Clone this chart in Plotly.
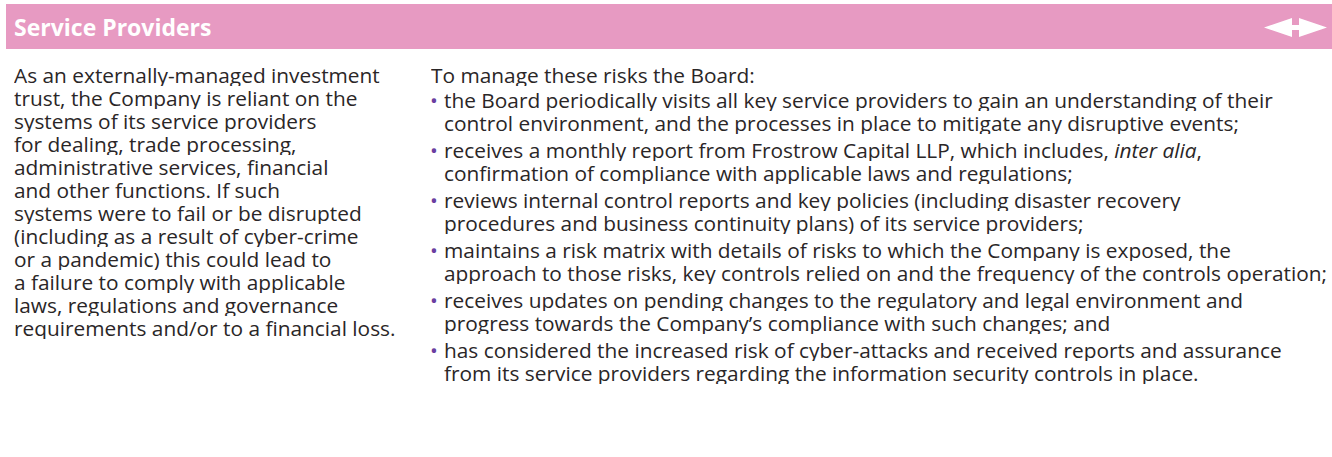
import plotly.graph_objects as go

TITLE = "Service Providers"

LEFT_LINES = [
    "As an externally-managed investment",
    "trust, the Company is reliant on the",
    "systems of its service providers",
    "for dealing, trade processing,",
    "administrative services, financial",
    "and other functions. If such",
    "systems were to fail or be disrupted",
    "(including as a result of cyber-crime",
    "or a pandemic) this could lead to",
    "a failure to comply with applicable",
    "laws, regulations and governance",
    "requirements and/or to a financial loss.",
]

RIGHT_INTRO = "To manage these risks the Board:"

BULLETS = [
    ["the Board periodically visits all key service providers to gain an understanding of their",
     "control environment, and the processes in place to mitigate any disruptive events;"],
    ["receives a monthly report from Frostrow Capital LLP, which includes, <i>inter alia</i>,",
     "confirmation of compliance with applicable laws and regulations;"],
    ["reviews internal control reports and key policies (including disaster recovery",
     "procedures and business continuity plans) of its service providers;"],
    ["maintains a risk matrix with details of risks to which the Company is exposed, the",
     "approach to those risks, key controls relied on and the frequency of the controls operation;"],
    ["receives updates on pending changes to the regulatory and legal environment and",
     "progress towards the Company\u2019s compliance with such changes; and"],
    ["has considered the increased risk of cyber-attacks and received reports and assurance",
     "from its service providers regarding the information security controls in place."],
]

W, H = 1332, 457
PINK = "#E79AC2"
PURPLE = "#6A3FA0"
TXT = "#2A2627"
FONT = "Open Sans"
FS = 20.85
LH = 23

fig = go.Figure()
fig.add_trace(go.Scatter(x=[0, W], y=[0, H], mode="markers", marker=dict(opacity=0), hoverinfo="skip", showlegend=False))

shapes = []
annotations = []

# header bar
shapes.append(dict(type="rect", xref="x", yref="y", x0=6, x1=W, y0=4, y1=49, fillcolor=PINK, line=dict(width=0), layer="below"))
# double arrow icon
arrow = ("M 1264 27.5 L 1292 18 L 1292 25 L 1299 25 L 1299 18 L 1327 27.5 "
         "L 1299 37 L 1299 30 L 1292 30 L 1292 37 Z")
shapes.append(dict(type="path", xref="x", yref="y", path=arrow, fillcolor="white", line=dict(width=0)))

annotations.append(dict(x=13, y=27, xref="x", yref="y", text="<b>" + TITLE + "</b>", showarrow=False,
                        xanchor="left", yanchor="middle", borderpad=0,
                        font=dict(family=FONT, size=23, color="white")))


def body(x, y, text, color=TXT, anchor="left"):
    return dict(x=x, y=y, xref="x", yref="y", text=text, showarrow=False,
                xanchor=anchor, yanchor="middle", borderpad=0, height=LH - 1,
                font=dict(family=FONT, size=FS, color=color))


y0 = 75
for i, line in enumerate(LEFT_LINES):
    annotations.append(body(13, y0 + i * LH, line))

annotations.append(body(430, y0, RIGHT_INTRO))

by = 100
for item in BULLETS:
    annotations.append(body(433.5, by, "\u2022", color=PURPLE, anchor="center"))
    for j, line in enumerate(item):
        annotations.append(body(443, by + j * LH, line))
    by += 50

fig.update_layout(
    width=W, height=H,
    margin=dict(l=0, r=0, t=0, b=0),
    paper_bgcolor="white", plot_bgcolor="white",
    xaxis=dict(range=[0, W], visible=False, fixedrange=True),
    yaxis=dict(range=[H, 0], visible=False, fixedrange=True),
    shapes=shapes, annotations=annotations, showlegend=False,
)

fig.write_html("out.html", config={"displayModeBar": False},
               post_script="document.body.style.margin='0';document.body.style.overflow='hidden';")
